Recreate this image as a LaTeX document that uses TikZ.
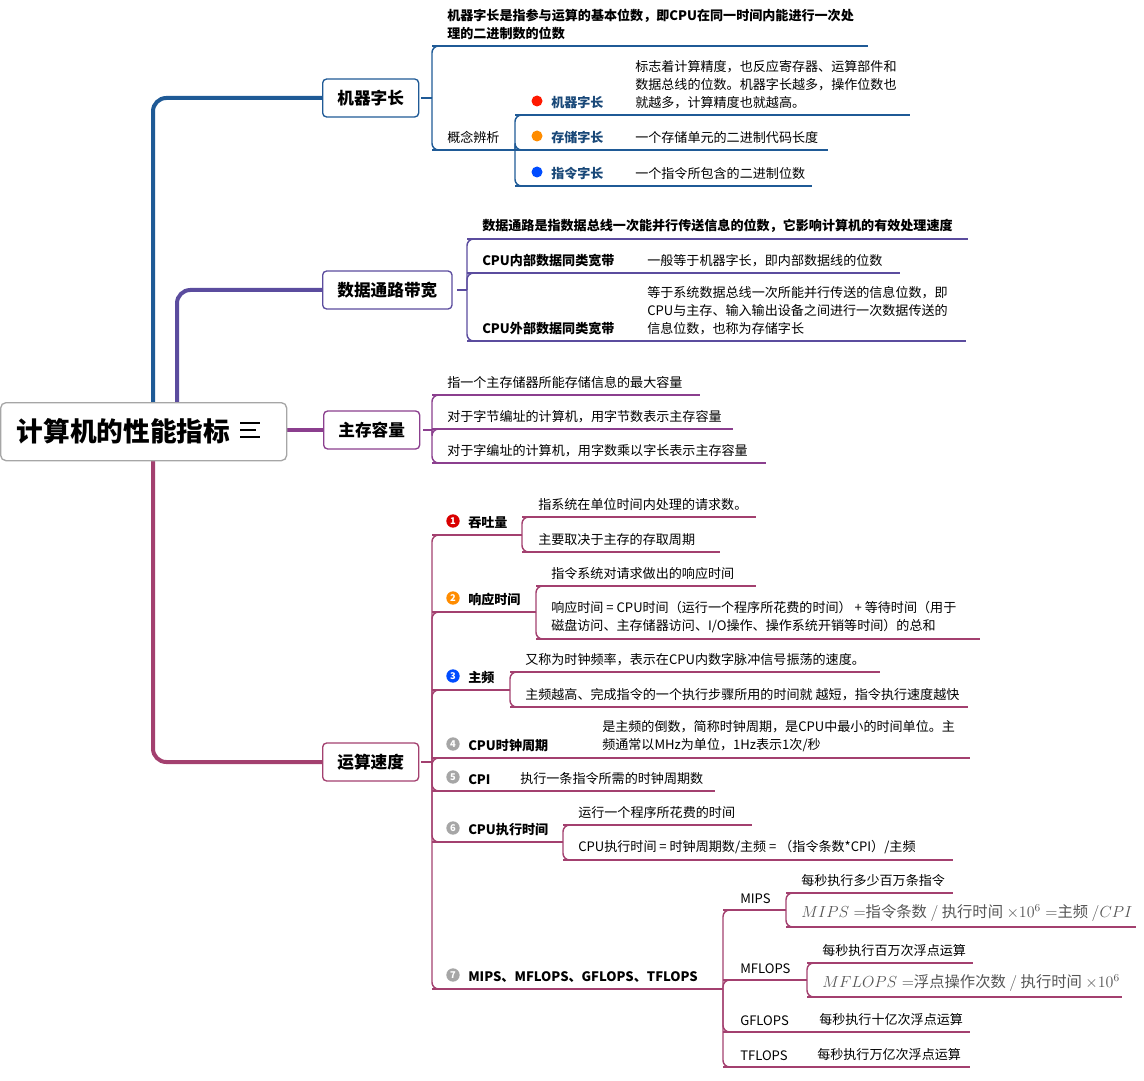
\documentclass[tikz,border=0pt]{standalone}
\usepackage{fontspec}
\setmainfont{Noto Sans CJK SC}
\definecolor{cb}{HTML}{1F5A96}
\definecolor{cp}{HTML}{5B4C9E}
\definecolor{cq}{HTML}{8B3F8E}
\definecolor{cmg}{HTML}{A3406F}
\definecolor{gr}{HTML}{555555}
\tikzset{
 lbl/.style={inner sep=0pt,font=\fontsize{9.8pt}{13.5pt}\selectfont,align=left,text=black},
 bl/.style={lbl,font=\fontsize{9.8pt}{13.5pt}\selectfont\bfseries},
 box/.style={draw,fill=white,rounded corners=3pt,line width=1pt,minimum height=28.5pt,inner xsep=11pt,font=\fontsize{12.5pt}{15pt}\selectfont\bfseries},
 ln/.style={line width=1.1pt},
 trunk/.style={line width=3pt,rounded corners=10pt},
 num/.style={circle,inner sep=0pt,minimum size=10pt,text=white,font=\fontsize{7pt}{7pt}\selectfont\bfseries}
}
\newcommand\leaf[7]{\draw[ln,#2] (#3,#4) -- (#5,#4); \node[lbl,anchor=south west] (#1) at (#6,#4-6) {#7};}
\newcommand\bleaf[7]{\draw[ln,#2] (#3,#4) -- (#5,#4); \node[bl,anchor=south west] (#1) at (#6,#4-6) {#7};}
\newcommand\brk[5]{\draw[ln,#1] (#2,#3) -- (#4,#3);\foreach \yy in {#5} {\draw[ln,#1,rounded corners=5pt] (#4,#3) -- (#4,\yy) -- (#4+14,\yy);}}
\begin{document}
\begin{tikzpicture}[x=0.75pt,y=-0.75pt]
\useasboundingbox (0,0) rectangle (1144,1080);
% trunks
\draw[trunk,cb] (153,402) -- (153,98) -- (322,98);
\draw[trunk,cp] (177,402) -- (177,290) -- (322,290);
\draw[trunk,cq,line width=2.5pt] (286,430) -- (323,430);
\draw[trunk,cmg] (153,460) -- (153,762) -- (322,762);
% root
\node[draw=gray!70,fill=white,rounded corners=4pt,line width=1pt,minimum width=214.5pt,minimum height=43.5pt,anchor=north west] (root) at (0,402) {};
\node[font=\fontsize{20pt}{24pt}\selectfont\bfseries,anchor=west] (rt) at (12,431) {计算机的性能指标};
\draw[line width=1.3pt] (240,423) -- (260,423) (240,430) -- (256,430) (240,437) -- (260,437);
% main boxes
\node[box,draw=cb,anchor=west] (b1) at (322,98) {机器字长};
\node[box,draw=cp,anchor=west] (b2) at (322,290) {数据通路带宽};
\node[box,draw=cq,anchor=west] (b3) at (323,430) {主存容量};
\node[box,draw=cmg,anchor=west] (b4) at (322,762) {运算速度};
% branch 1
\brk{cb}{421}{98}{432}{46,150}
\bleaf{a1}{cb}{432}{46}{868}{447}{机器字长是指参与运算的基本位数，即CPU在同一时间内能进行一次处\\理的二进制数的位数}
\leaf{a2}{cb}{432}{150}{512}{447}{概念辨析}
\brk{cb}{512}{150}{515}{115,150,186}
\draw[ln,cb] (515,115) -- (910,115);
\node[bl,text=cb!80!black,anchor=south west] (k1) at (551,109) {机器字长};
\fill[red!80!orange] (537,101) circle (5.5);
\node[lbl,anchor=south west] (k1t) at (635,109) {标志着计算精度，也反应寄存器、运算部件和\\数据总线的位数。机器字长越多，操作位数也\\就越多，计算精度也就越高。};
\draw[ln,cb] (515,150) -- (828,150);
\node[bl,text=cb!80!black,anchor=south west] (k2) at (551,144) {存储字长};
\fill[orange!90!yellow] (537,136) circle (5.5);
\node[lbl,anchor=south west] (k2t) at (635,144) {一个存储单元的二进制代码长度};
\draw[ln,cb] (515,186) -- (812,186);
\node[bl,text=cb!80!black,anchor=south west] (k3) at (551,180) {指令字长};
\fill[blue!70!cyan] (537,172) circle (5.5);
\node[lbl,anchor=south west] (k3t) at (635,180) {一个指令所包含的二进制位数};
% branch 2
\brk{cp}{457}{290}{467}{239,273,341}
\bleaf{d1}{cp}{467}{239}{968}{482}{数据通路是指数据总线一次能并行传送信息的位数，它影响计算机的有效处理速度}
\bleaf{d2}{cp}{467}{273}{900}{482}{CPU内部数据同类宽带}
\node[lbl,anchor=south west] (d2t) at (647,267) {一般等于机器字长，即内部数据线的位数};
\bleaf{d3}{cp}{467}{341}{966}{482}{CPU外部数据同类宽带}
\node[lbl,anchor=south west] (d3t) at (647,335) {等于系统数据总线一次所能并行传送的信息位数，即\\CPU与主存、输入输出设备之间进行一次数据传送的\\信息位数，也称为存储字长};
% branch 3
\brk{cq}{423}{430}{432}{395,429,463}
\leaf{m1}{cq}{432}{395}{700}{447}{指一个主存储器所能存储信息的最大容量}
\leaf{m2}{cq}{432}{429}{733}{447}{对于字节编址的计算机，用字节数表示主存容量}
\leaf{m3}{cq}{432}{463}{766}{447}{对于字编址的计算机，用字数乘以字长表示主存容量}
% branch 4
\brk{cmg}{421}{762}{432}{535,612,690,758,791,842,989}
% 1
\bleaf{s1}{cmg}{432}{535}{522}{468}{吞吐量}
\node[num,fill=red!85!black] (n1) at (453,521) {1};
\brk{cmg}{522}{535}{522}{517,552}
\leaf{s1a}{cmg}{522}{517}{756}{538}{指系统在单位时间内处理的请求数。}
\leaf{s1b}{cmg}{522}{552}{720}{538}{主要取决于主存的存取周期}
% 2
\bleaf{s2}{cmg}{432}{612}{536}{468}{响应时间}
\node[num,fill=orange!90!yellow] (n2) at (453,598) {2};
\brk{cmg}{536}{612}{536}{586,639}
\leaf{s2a}{cmg}{536}{586}{756}{551}{指令系统对请求做出的响应时间}
\leaf{s2b}{cmg}{536}{639}{980}{551}{响应时间 = CPU时间（运行一个程序所花费的时间） + 等待时间（用于\\磁盘访问、主存储器访问、I/O操作、操作系统开销等时间）的总和}
% 3
\bleaf{s3}{cmg}{432}{690}{510}{468}{主频}
\node[num,fill=blue!70!cyan] (n3) at (453,676) {3};
\brk{cmg}{510}{690}{510}{672,707}
\leaf{s3a}{cmg}{510}{672}{880}{525}{又称为时钟频率，表示在CPU内数字脉冲信号振荡的速度。}
\leaf{s3b}{cmg}{510}{707}{968}{525}{主频越高、完成指令的一个执行步骤所用的时间就 越短，指令执行速度越快}
% 4
\bleaf{s4}{cmg}{432}{758}{970}{468}{CPU时钟周期}
\node[num,fill=gray!70] (n4) at (453,744) {4};
\node[lbl,anchor=south west] (s4t) at (602,752) {是主频的倒数，简称时钟周期，是CPU中最小的时间单位。主\\频通常以MHz为单位，1Hz表示1次/秒};
% 5
\bleaf{s5}{cmg}{432}{791}{715}{468}{CPI}
\node[num,fill=gray!70] (n5) at (453,777) {5};
\node[lbl,anchor=south west] (s5t) at (520,785) {执行一条指令所需的时钟周期数};
% 6
\bleaf{s6}{cmg}{432}{842}{563}{468}{CPU执行时间}
\node[num,fill=gray!70] (n6) at (453,828) {6};
\brk{cmg}{563}{842}{563}{825,860}
\leaf{s6a}{cmg}{563}{825}{752}{578}{运行一个程序所花费的时间}
\leaf{s6b}{cmg}{563}{860}{953}{578}{CPU执行时间 = 时钟周期数/主频 = （指令条数*CPI）/主频}
% 7
\bleaf{s7}{cmg}{432}{989}{723}{468}{MIPS、MFLOPS、GFLOPS、TFLOPS}
\node[num,fill=gray!70] (n7) at (453,975) {7};
\brk{cmg}{723}{989}{723}{910,980,1032,1067}
\leaf{p1}{cmg}{723}{910}{786}{740}{MIPS}
\brk{cmg}{786}{910}{786}{893,927}
\leaf{p1a}{cmg}{786}{893}{953}{801}{每秒执行多少百万条指令}
\draw[ln,cmg] (786,927) -- (1136,927);
\node[lbl,text=gr,font=\fontsize{11.5pt}{14pt}\selectfont,anchor=south west] (p1b) at (801,922) {$MIPS=$指令条数 $/$ 执行时间 $\times 10^6=$主频 $/CPI$};
\leaf{p2}{cmg}{723}{980}{807}{740}{MFLOPS}
\brk{cmg}{807}{980}{807}{963,997}
\leaf{p2a}{cmg}{807}{963}{973}{822}{每秒执行百万次浮点运算}
\draw[ln,cmg] (807,997) -- (1122,997);
\node[lbl,text=gr,font=\fontsize{11.5pt}{14pt}\selectfont,anchor=south west] (p2b) at (822,992) {$MFLOPS=$浮点操作次数 $/$ 执行时间 $\times 10^6$};
\leaf{p3}{cmg}{723}{1032}{970}{740}{GFLOPS}
\node[lbl,anchor=south west] (p3t) at (819,1026) {每秒执行十亿次浮点运算};
\leaf{p4}{cmg}{723}{1067}{970}{740}{TFLOPS}
\node[lbl,anchor=south west] (p4t) at (817,1061) {每秒执行万亿次浮点运算};
\end{tikzpicture}
\end{document}
